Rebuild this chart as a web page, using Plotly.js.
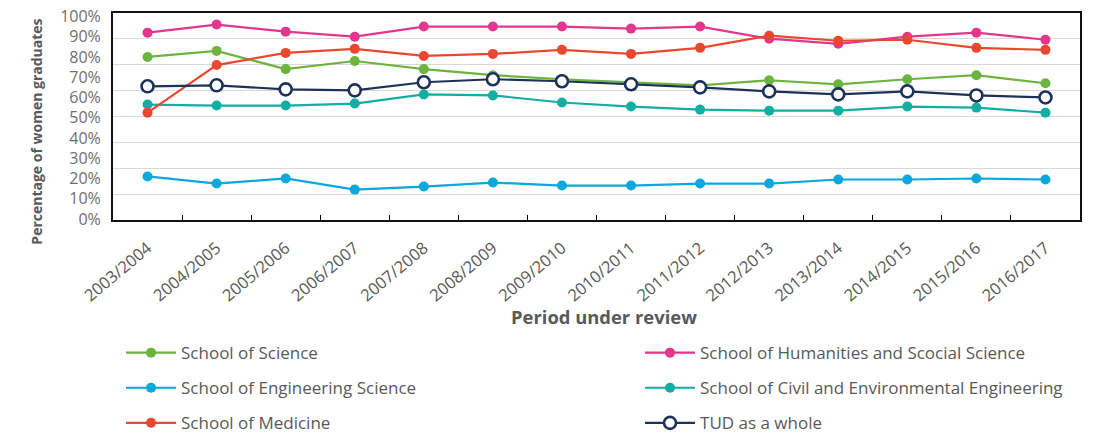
<!DOCTYPE html>
<html>
<head>
<meta charset="utf-8">
<script src="https://cdn.plot.ly/plotly-3.0.1.min.js"></script>
<style>
  html, body { margin: 0; padding: 0; background: #ffffff; }
  #chart { width: 1094px; height: 440px; }
</style>
</head>
<body>
<div id="chart"></div>
<script>
// ---- Data (percentages) ----
const periods = ["2003/2004","2004/2005","2005/2006","2006/2007","2007/2008","2008/2009","2009/2010",
                 "2010/2011","2011/2012","2012/2013","2013/2014","2014/2015","2015/2016","2016/2017"];

const science      = [80, 83, 74, 78, 74, 71, 69, 67.5, 66, 68.5, 66.5, 69, 71, 67];
const humanities   = [92, 96, 92.5, 90, 95, 95, 95, 94, 95, 89, 86.5, 90, 92, 88.5];
const engineering  = [21, 17.5, 20, 14.5, 16, 18, 16.5, 16.5, 17.5, 17.5, 19.5, 19.5, 20, 19.5];
const civil        = [56.5, 56, 56, 57, 61.5, 61, 57.5, 55.5, 54, 53.5, 53.5, 55.5, 55, 52.5];
const medicine     = [52.5, 76, 82, 84, 80.5, 81.5, 83.5, 81.5, 84.5, 90.5, 88, 88.5, 84.5, 83.5];
const tud          = [65.5, 66, 64, 63.5, 67.5, 69, 68, 66.5, 65, 63, 61.5, 63, 61, 60];

const yTickVals  = [0,10,20,30,40,50,60,70,80,90,100];
const yTickText  = ["0%","10%","20%","30%","40%","50%","60%","70%","80%","90%","100%"];

const seriesNames = ["School of Science","School of Humanities and Scocial Science","School of Engineering Science",
                     "School of Civil and Environmental Engineering","School of Medicine","TUD as a whole"];
const seriesData  = [science, humanities, engineering, civil, medicine, tud];
const seriesColors = ["#6db33f","#e2378d","#0ba7dd","#12aea2","#e9472f","#1d3259"];
// left column: legend, right column: legend2
const seriesLegend = ["legend","legend2","legend","legend2","legend","legend2"];

// ---- Traces ----
const traces = seriesData.map((vals, i) => {
  const isTud = i === 5;
  return {
    type: "scatter",
    mode: "lines+markers",
    name: seriesNames[i],
    x: periods,
    y: vals,
    legend: seriesLegend[i],
    legendgroup: "g" + i,
    line: { color: seriesColors[i], width: 2.2 },
    marker: isTud
      ? { symbol: "circle", size: 12, color: "#ffffff", line: { color: seriesColors[i], width: 2.6 } }
      : { symbol: "circle", size: 10, color: seriesColors[i] },
    hoverinfo: "x+y+name"
  };
});

// ---- Layout ----
const baseFont = { family: "Open Sans, sans-serif", color: "#595959" };
function legendAt(x) {
  return {
    orientation: "v",
    x: x, xanchor: "left",
    y: -0.812, yanchor: "middle",
    itemwidth: 50,
    tracegroupgap: 10,
    traceorder: "grouped",
    font: { family: "Open Sans, sans-serif", size: 17, color: "#595959" },
    bgcolor: "rgba(0,0,0,0)"
  };
}

const layout = {
  width: 1094, height: 440,
  margin: { l: 113, r: 14, t: 13, b: 220, autoexpand: false },
  paper_bgcolor: "#ffffff",
  plot_bgcolor: "#ffffff",
  font: baseFont,
  showlegend: true,
  xaxis: {
    type: "category",
    range: [-0.5, 13.5],
    tickangle: -40,
    tickson: "boundaries",
    ticks: "inside",
    ticklen: 5,
    tickwidth: 1.2,
    tickcolor: "#000000",
    ticklabelstandoff: 10,
    tickfont: { family: "Open Sans, sans-serif", size: 16.5, color: "#595959" },
    showgrid: false,
    zeroline: false,
    showline: true,
    linecolor: "#111111",
    linewidth: 2.2,
    mirror: true
  },
  yaxis: {
    range: [-0.5, 101.7],
    tickvals: yTickVals,
    ticktext: yTickText,
    ticks: "",
    ticklabelstandoff: 7,
    tickfont: { family: "Open Sans, sans-serif", size: 16, color: "#6f6f6f" },
    showgrid: false,
    zeroline: false,
    showline: true,
    linecolor: "#111111",
    linewidth: 2,
    mirror: true,
    fixedrange: true
  },
  yaxis2: {
    overlaying: "y",
    range: [0, 100],
    dtick: 12.5,
    showticklabels: false,
    ticks: "",
    showgrid: true,
    gridcolor: "#d9d9d9",
    gridwidth: 1.3,
    zeroline: false,
    showline: false
  },
  legend: legendAt(0.0083),
  legend2: legendAt(0.545),
  annotations: [
    {
      text: "<b>Percentage of women graduates</b>",
      xref: "paper", yref: "paper",
      x: -0.08, y: 0.425,
      xanchor: "center", yanchor: "middle",
      textangle: -90,
      showarrow: false,
      font: { family: "Open Sans, sans-serif", size: 14, color: "#595959" }
    },
    {
      text: "<b>Period under review</b>",
      xref: "paper", yref: "paper",
      x: 0.5078, y: -0.467,
      xanchor: "center", yanchor: "middle",
      showarrow: false,
      font: { family: "Open Sans, sans-serif", size: 18.4, color: "#595959" }
    }
  ]
};

// invisible helper trace so the gridline axis is rendered
traces.unshift({
  type: "scatter", x: [periods[0]], y: [null], yaxis: "y2",
  showlegend: false, hoverinfo: "skip", mode: "markers", marker: { opacity: 0 }
});

Plotly.newPlot("chart", traces, layout, { displayModeBar: false, staticPlot: false });
</script>
</body>
</html>
